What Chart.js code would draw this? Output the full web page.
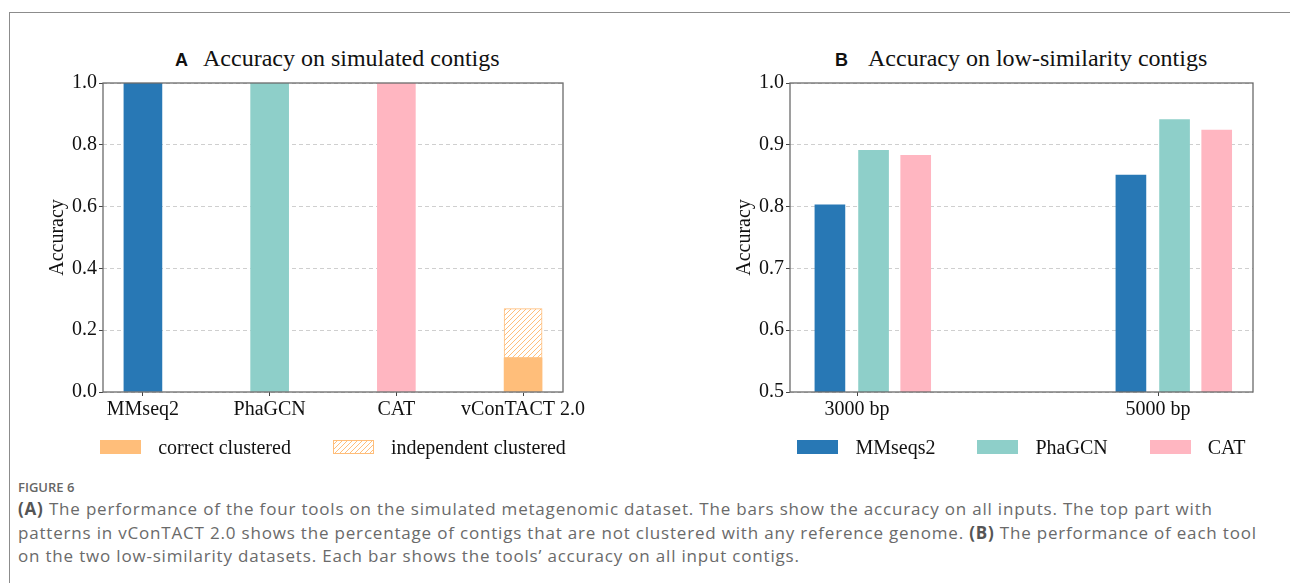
<!DOCTYPE html>
<html>
<head>
<meta charset="utf-8">
<script src="https://cdn.jsdelivr.net/npm/chart.js@4.4.0/dist/chart.umd.min.js"></script>
<style>
  body { margin: 0; width: 1290px; height: 583px; background: #fff; position: relative; overflow: hidden; }
  .frame { position: absolute; left: 9px; top: 12px; width: 1290px; height: 580px; border-left: 1px solid #8c8c8c; border-top: 1px solid #8c8c8c; }
  .ptitle { position: absolute; top: 44px; white-space: nowrap; font-family: "Liberation Serif", serif; font-size: 24px; line-height: 28px; color: #111; }
  .ptitle b { font-family: "Liberation Sans", sans-serif; font-size: 18px; }
  canvas { position: absolute; }
  .legend { position: absolute; top: 435px; height: 24px; display: flex; justify-content: center; gap: 42px;
            font-family: "Liberation Serif", serif; font-size: 20px; line-height: 24px; color: #111; white-space: nowrap; }
  .legend .item { display: flex; align-items: center; }
  .legend .box { width: 41px; height: 14px; margin-right: 17px; box-sizing: border-box; }
  .caption { position: absolute; left: 18px; top: 478px; font-family: "Open Sans", sans-serif; color: #6a6a6a; white-space: nowrap; }
  .caption .fig { font-size: 13px; line-height: 18px; font-weight: 600; color: #666; height: 19px; }
  .caption .line { font-size: 17px; line-height: 23.5px; letter-spacing: 0.81px; }
  .caption b { color: #555; }
</style>
</head>
<body>
<div class="frame"></div>

<div class="ptitle" style="left:175px"><b style="margin-right:15px">A</b>Accuracy on simulated contigs</div>
<div class="ptitle" style="left:835px"><b style="margin-right:20px">B</b>Accuracy on low-similarity contigs</div>

<canvas id="chart-a" width="620" height="380" style="left:20px; top:60px"></canvas>
<canvas id="chart-b" width="590" height="380" style="left:700px; top:60px"></canvas>

<div class="legend" id="legend-a" style="left:103px; width:460px"></div>
<div class="legend" id="legend-b" style="left:790px; width:463px"></div>

<div class="caption">
  <div class="fig">FIGURE 6</div>
  <div class="line"><b>(A)</b> The performance of the four tools on the simulated metagenomic dataset. The bars show the accuracy on all inputs. The top part with</div>
  <div class="line">patterns in vConTACT 2.0 shows the percentage of contigs that are not clustered with any reference genome. <b>(B)</b> The performance of each tool</div>
  <div class="line">on the two low-similarity datasets. Each bar shows the tools’ accuracy on all input contigs.</div>
</div>

<script>
// panel A
const toolsA = ['MMseq2', 'PhaGCN', 'CAT', 'vConTACT 2.0'];
const correctA = [1.0, 1.0, 1.0, 0.11];
const independentA = [null, null, null, 0.16];
const legendA = ['correct clustered', 'independent clustered'];

// panel B
const lengthsB = ['3000 bp', '5000 bp'];
const toolsB = ['MMseqs2', 'PhaGCN', 'CAT'];
const mmseqsB = [0.803, 0.851];
const phagcnB = [0.891, 0.941];
const catB = [0.883, 0.924];

const BLUE = '#2878B5';
const TEAL = '#8ECFC9';
const PINK = '#FFB6C1';
const ORANGE = '#FFBE7A';
const SERIF = '"Liberation Serif", "Times New Roman", serif';

Chart.defaults.font.family = SERIF;
Chart.defaults.color = '#111';

function makeHatch(color) {
    const c = document.createElement('canvas');
    c.width = 5;
    c.height = 5;
    const g = c.getContext('2d');
    g.fillStyle = '#fff';
    g.fillRect(0, 0, 5, 5);
    g.strokeStyle = color;
    g.lineWidth = 1;
    g.beginPath();
    g.moveTo(0, 5); g.lineTo(5, 0);
    g.moveTo(-1, 1); g.lineTo(1, -1);
    g.moveTo(4, 6); g.lineTo(6, 4);
    g.stroke();
    return g.createPattern(c, 'repeat');
}
const hatch = makeHatch(ORANGE);

// spines all round, like matplotlib
const framePlugin = {
    id: 'frame',
    afterDatasetsDraw(chart) {
        const { ctx, chartArea: a } = chart;
        ctx.save();
        ctx.strokeStyle = '#6b6b6b';
        ctx.lineWidth = 1.3;
        ctx.strokeRect(a.left, a.top, a.right - a.left, a.bottom - a.top);
        ctx.restore();
    }
};

function yScale(min, max, step, width, titlePad) {
    return {
        min, max,
        border: { display: false, dash: [4, 3] },
        grid: { color: '#cfcfcf', tickColor: '#444', tickLength: 4, tickBorderDash: [] },
        ticks: { stepSize: step, padding: 2, font: { size: 20 }, callback: v => v.toFixed(1) },
        title: { display: true, text: 'Accuracy', font: { size: 20 }, padding: { top: titlePad, bottom: 0 } },
        afterFit: axis => { axis.width = width; }
    };
}

function xScale(min, max, labels) {
    return {
        type: 'linear',
        min, max,
        offset: false,
        border: { display: false },
        grid: { offset: false, drawOnChartArea: false, tickColor: '#444', tickLength: 4 },
        ticks: { autoSkip: false, maxRotation: 0, padding: 2, font: { size: 20 }, callback: v => labels[v] },
        afterBuildTicks: axis => { axis.ticks = labels.map((_, i) => ({ value: i })); },
        afterFit: axis => { axis.height = 30; }
    };
}

new Chart(document.getElementById('chart-a'), {
    type: 'bar',
    data: {
        datasets: [{
            label: legendA[0],
            data: toolsA.map((t, i) => ({ x: i, y: correctA[i] })),
            backgroundColor: [BLUE, TEAL, PINK, ORANGE],
            borderColor: [BLUE, TEAL, PINK, ORANGE],
            borderWidth: 0,
            grouped: false,
            barThickness: 38
        }, {
            label: legendA[1],
            data: toolsA.map((t, i) => ({ x: i, y: independentA[i] })),
            backgroundColor: hatch,
            borderColor: ORANGE,
            borderWidth: 1,
            borderSkipped: false,
            grouped: false,
            barThickness: 38
        }]
    },
    options: {
        responsive: false,
        animation: false,
        devicePixelRatio: 1,
        layout: { padding: { left: 0, top: 23, right: 77, bottom: 18 } },
        plugins: { legend: { display: false }, tooltip: { enabled: false } },
        scales: {
            x: Object.assign(xScale(-0.315, 3.315, toolsA), { stacked: true }),
            y: Object.assign(yScale(0, 1, 0.2, 83, 26), { stacked: true })
        }
    },
    plugins: [framePlugin]
});

const offsetsB = [-0.09, 0.055, 0.195];
const seriesB = [mmseqsB, phagcnB, catB];
const colorsB = [BLUE, TEAL, PINK];

new Chart(document.getElementById('chart-b'), {
    type: 'bar',
    data: {
        datasets: toolsB.map((name, k) => ({
            label: name,
            data: lengthsB.map((l, i) => ({ x: i + offsetsB[k], y: seriesB[k][i] })),
            backgroundColor: colorsB[k],
            borderWidth: 0,
            grouped: false,
            barThickness: 30
        }))
    },
    options: {
        responsive: false,
        animation: false,
        devicePixelRatio: 1,
        layout: { padding: { left: 0, top: 23, right: 37, bottom: 18 } },
        plugins: { legend: { display: false }, tooltip: { enabled: false } },
        scales: {
            x: xScale(-0.2226, 1.3156, lengthsB),
            y: yScale(0.5, 1.0, 0.1, 90, 33)
        }
    },
    plugins: [framePlugin]
});

function legendItem(text, fill, border) {
    const item = document.createElement('span');
    item.className = 'item';
    const box = document.createElement('canvas');
    box.className = 'box';
    box.width = 41;
    box.height = 14;
    box.style.position = 'static';
    const g = box.getContext('2d');
    g.fillStyle = fill;
    g.fillRect(0, 0, 41, 14);
    if (border) {
        g.strokeStyle = border;
        g.lineWidth = 1;
        g.strokeRect(0.5, 0.5, 40, 13);
    }
    item.appendChild(box);
    item.appendChild(document.createTextNode(text));
    return item;
}

const legA = document.getElementById('legend-a');
legA.appendChild(legendItem(legendA[0], ORANGE));
legA.appendChild(legendItem(legendA[1], hatch, ORANGE));

const legB = document.getElementById('legend-b');
toolsB.forEach((name, k) => legB.appendChild(legendItem(name, colorsB[k])));
</script>
</body>
</html>
